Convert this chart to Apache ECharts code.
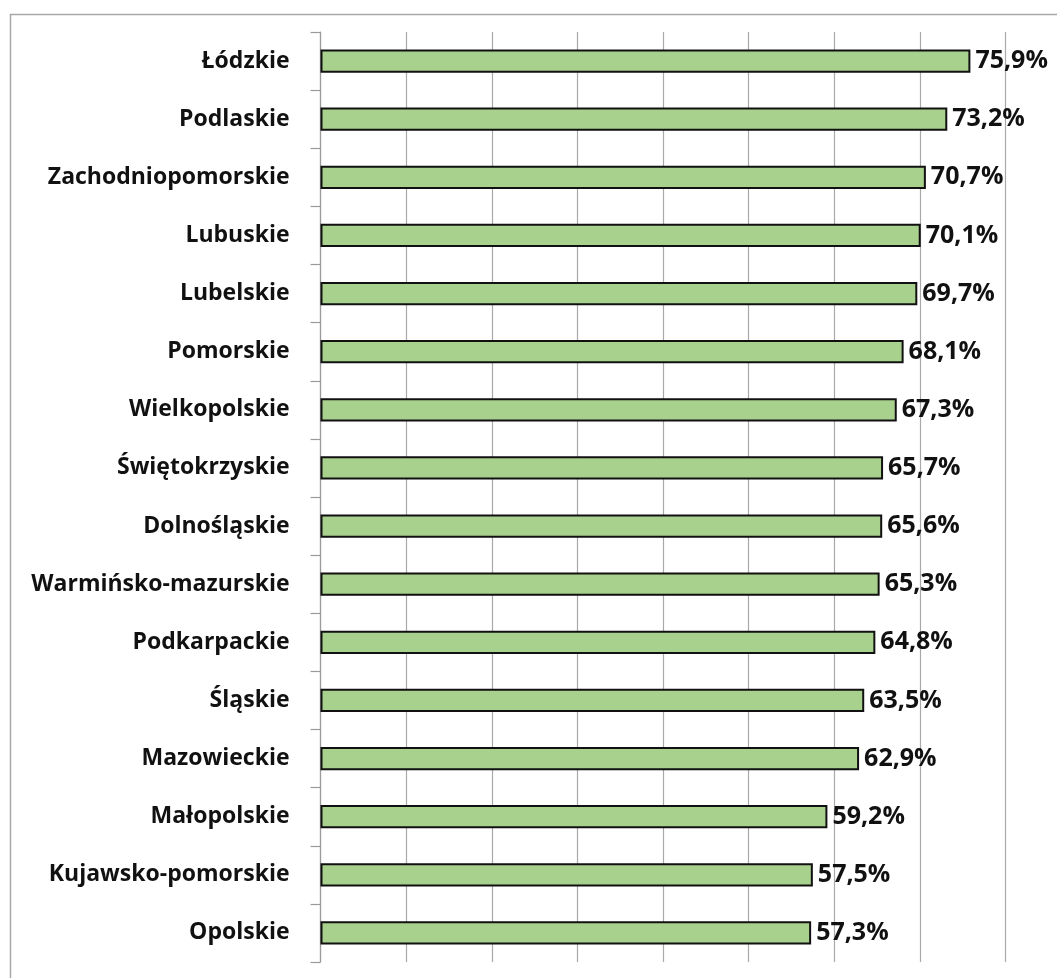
<!DOCTYPE html>
<html>
<head>
<meta charset="utf-8">
<script src="https://cdn.jsdelivr.net/npm/echarts@6/dist/echarts.min.js"></script>
<style>html,body{margin:0;padding:0;background:#fff}#c{width:1057px;height:978px}</style>
</head>
<body>
<div id="c"></div>
<script>
const categories = ["Łódzkie","Podlaskie","Zachodniopomorskie","Lubuskie","Lubelskie","Pomorskie","Wielkopolskie","Świętokrzyskie","Dolnośląskie","Warmińsko-mazurskie","Podkarpackie","Śląskie","Mazowieckie","Małopolskie","Kujawsko-pomorskie","Opolskie"];
const values = [75.9,73.2,70.7,70.1,69.7,68.1,67.3,65.7,65.6,65.3,64.8,63.5,62.9,59.2,57.5,57.3];
const xMin = 0, xMax = 80, xStep = 10;

const chart = echarts.init(document.getElementById('c'), null, {renderer:'canvas'});
const font = '"Open Sans", sans-serif';
chart.setOption({
  animation:false,
  backgroundColor:'#fff',
  graphic:[{type:'rect',left:8,top:12,shape:{width:1200,height:1100},style:{fill:'none',stroke:'#a8a8a8',lineWidth:1.5},silent:true,z:-1}],
  grid:{left:320.5,right:51.5,top:32,bottom:16,containLabel:false},
  xAxis:{type:'value',min:xMin,max:xMax,interval:xStep,
    axisLine:{show:false},axisTick:{show:false},axisLabel:{show:false},
    splitLine:{show:true,lineStyle:{color:'#a9a9a9',width:1.2}}},
  yAxis:{type:'category',data:categories,inverse:true,
    axisLine:{show:true,lineStyle:{color:'#9a9a9a',width:1.2}},
    axisTick:{show:true,inside:false,length:10,lineStyle:{color:'#9a9a9a',width:1.2}},
    axisLabel:{margin:31,color:'#111',fontFamily:font,fontWeight:'bold',fontSize:23}},
  series:[{type:'bar',data:values,barCategoryGap:'60%',
    itemStyle:{color:'#a9d18e',borderColor:'#111',borderWidth:2},
    label:{show:true,position:'right',distance:5,color:'#111',fontFamily:font,fontWeight:'bold',fontSize:25,
      formatter:p=>p.value.toFixed(1).replace('.',',')+'%'}}]
});
</script>
</body>
</html>
